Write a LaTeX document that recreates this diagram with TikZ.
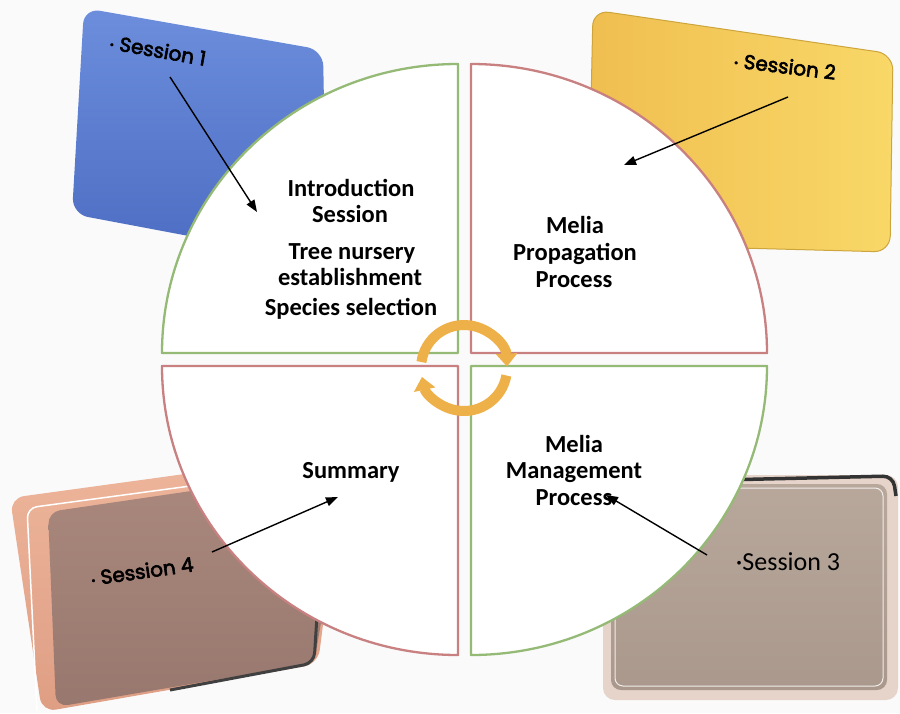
\documentclass[tikz,border=0pt]{standalone}
\usepackage{fontspec}
\setmainfont{Carlito}
\newfontfamily\handfont[FakeBold=3]{Poppins}
\usetikzlibrary{arrows.meta}
\definecolor{bgcol}{RGB}{250,250,251}
\definecolor{blueA}{RGB}{108,142,220}
\definecolor{blueB}{RGB}{76,108,194}
\definecolor{yelA}{RGB}{240,190,80}
\definecolor{yelB}{RGB}{248,216,104}
\definecolor{yelD}{RGB}{205,165,60}
\definecolor{peachA}{RGB}{238,182,156}
\definecolor{peachB}{RGB}{222,158,132}
\definecolor{brownA}{RGB}{170,136,126}
\definecolor{brownB}{RGB}{152,120,110}
\definecolor{sthreeout}{RGB}{230,212,202}
\definecolor{sthreeA}{RGB}{184,167,155}
\definecolor{sthreeB}{RGB}{170,152,140}
\definecolor{qgreen}{RGB}{148,186,118}
\definecolor{qred}{RGB}{200,128,128}
\definecolor{orng}{RGB}{238,176,72}
\newcommand\quadfont{\fontsize{24.5}{26}\selectfont\bfseries}
\newcommand\sessfont{\handfont\fontsize{20}{22}\selectfont}
\newcommand\sessfontb{\fontsize{26}{28}\selectfont}
\newcommand\sdot{\raisebox{1pt}{\fontsize{11}{11}\selectfont•}}
\begin{document}
\begin{tikzpicture}[x=1pt,y=-1pt,
  quadgreen/.style={fill=white, draw=qgreen, line width=2.3pt, line join=round},
  quadred/.style={fill=white, draw=qred, line width=2.3pt, line join=round},
  qtext/.style={font=\quadfont, anchor=base, inner sep=0pt},
  stext/.style={font=\sessfont, inner sep=0pt},
  sarrow/.style={draw=black, line width=1.4pt, -{Triangle[length=12pt,width=9pt]}},
  cyc/.style={draw=orng, line width=10pt, -{Triangle[length=13pt,width=21pt]}},
]
\useasboundingbox (0,0) rectangle (900,713);
\fill[bgcol] (0,0) rectangle (900,713);

% ---- Session boxes (behind the circle)
% Session 1 (blue)
\path[top color=blueA, bottom color=blueB, rounded corners=16pt]
  (84,8) -- (323,50) -- (327,262) -- (72,214) -- cycle;
% Session 2 (yellow)
\path[left color=yelA, right color=yelB, draw=yelD, line width=1pt, rounded corners=16pt]
  (593,10) -- (893,54) -- (890,252) -- (588,244) -- cycle;
% Session 4 (peach frame, brown face)
\path[top color=peachA, bottom color=peachB, rounded corners=14pt]
  (10,498) -- (345,452) -- (318,664) -- (42,712) -- cycle;
\draw[white, line width=1.5pt, rounded corners=10pt] (37,711) -- (27,508) -- (220,482);
\path[top color=brownA, bottom color=brownB, rounded corners=12pt]
  (48,512) -- (348,468) -- (314,663) -- (56,707) -- cycle;
\draw[black!75, line width=3pt, rounded corners=10pt] (318,600) -- (314,663) -- (170,690);
% Session 3 (taupe)
\path[fill=sthreeout, rounded corners=12pt] (603,475) rectangle (898,700);
\path[top color=sthreeA, bottom color=sthreeB, rounded corners=10pt] (611,484) rectangle (887,690);
\draw[white!80!sthreeA, line width=1pt, rounded corners=8pt] (615,488) rectangle (883,686);
\draw[black!80, line width=3.5pt, rounded corners=10pt] (720,480) -- (893,476) -- (896,496);

% ---- Session labels
\node[stext, rotate=-10] (lab1) at (158,50) {\sdot\ Session 1};
\node[stext, rotate=-7] (lab2) at (785,66) {\sdot\ Session 2};
\node[stext, rotate=8] (lab4) at (142,571) {\sdot\ Session 4};
\node[font=\sessfontb, inner sep=0pt, anchor=base] (lab3) at (788,570) {·Session 3};

% ---- Quadrants
\path[quadgreen] (458,353) -- (458,64) arc[start angle=270, end angle=180, x radius=296, y radius=289] -- cycle;
\path[quadred] (471,353) -- (471,64) arc[start angle=270, end angle=360, x radius=296, y radius=289] -- cycle;
\path[quadred] (458,366) -- (162,366) arc[start angle=180, end angle=90, x radius=296, y radius=289] -- cycle;
\path[quadgreen] (471,366) -- (767,366) arc[start angle=0, end angle=90, x radius=296, y radius=289] -- cycle;

% ---- Quadrant texts
\node[qtext] (q1a) at (351,196) {Introduction};
\node[qtext] (q1b) at (350,222) {Session};
\node[qtext] (q1c) at (352,259) {Tree nursery};
\node[qtext] (q1d) at (350,285) {establishment};
\node[qtext] (q1e) at (351,315) {Species selection};
\node[qtext] (q2a) at (575,233) {Melia};
\node[qtext] (q2b) at (575,260) {Propagation};
\node[qtext] (q2c) at (574,287) {Process};
\node[qtext] (q3a) at (574,452) {Melia};
\node[qtext] (q3b) at (574,478) {Management};
\node[qtext] (q3c) at (574,505) {Process};
\node[qtext] (q4a) at (351,478) {Summary};

% ---- Central cycle arrows
\coordinate (cc) at (464,368);
\draw[cyc] ([shift={(188:43)}]cc) arc[start angle=188, end angle=358, radius=43];
\draw[cyc] ([shift={(10:43)}]cc) arc[start angle=10, end angle=168, radius=43];

% ---- Session arrows
\coordinate (s1a) at (170,77);  \coordinate (s1b) at (257,212);
\coordinate (s2a) at (788,97);  \coordinate (s2b) at (624,165);
\coordinate (s3a) at (707,555); \coordinate (s3b) at (606,495);
\coordinate (s4a) at (212,552); \coordinate (s4b) at (338,497);
\draw[sarrow] (s1a) -- (s1b);
\draw[sarrow] (s2a) -- (s2b);
\draw[sarrow] (s3a) -- (s3b);
\draw[sarrow] (s4a) -- (s4b);
\end{tikzpicture}
\end{document}
